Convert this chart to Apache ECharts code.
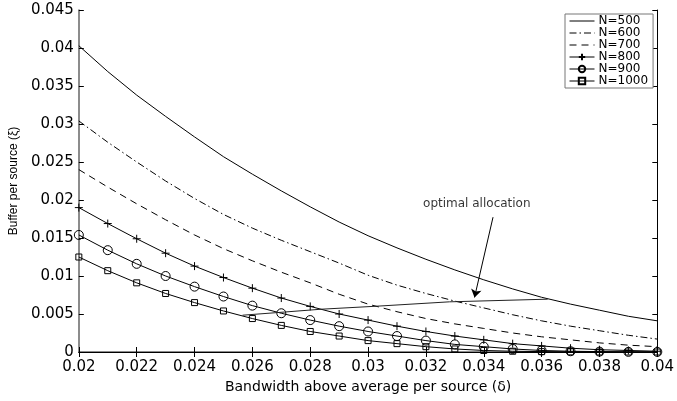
<!DOCTYPE html>
<html>
<head>
<meta charset="utf-8">
<script src="https://cdn.jsdelivr.net/npm/echarts@6/dist/echarts.min.js"></script>
<style>html,body{margin:0;padding:0;background:#fff}#c{width:677px;height:401px}</style>
</head>
<body>
<div id="c"></div>
<script>
const deltas = [0.020,0.021,0.022,0.023,0.024,0.025,0.026,0.027,0.028,0.029,0.030,0.031,0.032,0.033,0.034,0.035,0.036,0.037,0.038,0.039,0.040];
const n500  = [0.0403,0.0369,0.0338,0.0310,0.0283,0.0257,0.0234,0.0212,0.0191,0.0171,0.0153,0.0137,0.0122,0.0108,0.0095,0.0083,0.0072,0.0063,0.0055,0.0047,0.0041];
const n600  = [0.0304,0.0276,0.0250,0.0225,0.0202,0.0181,0.0163,0.0147,0.0132,0.0117,0.0101,0.0088,0.0077,0.0067,0.0058,0.0049,0.0041,0.0034,0.0028,0.0022,0.0017];
const n700  = [0.0240,0.0217,0.0195,0.0174,0.0154,0.0136,0.0120,0.0105,0.0091,0.0076,0.0063,0.0053,0.0044,0.0037,0.0031,0.0025,0.0020,0.0016,0.0012,0.0009,0.0007];
const n800  = [0.0190,0.0169,0.0149,0.0130,0.0113,0.0098,0.0084,0.0071,0.0060,0.0050,0.0042,0.0034,0.0027,0.0021,0.0016,0.0011,0.0008,0.0005,0.0003,0.0002,0.0001];
const n900  = [0.0154,0.0134,0.0116,0.0100,0.0086,0.0073,0.0061,0.0051,0.0042,0.0034,0.0027,0.0021,0.0015,0.0010,0.0007,0.0004,0.0002,0.0001,0.00005,0.00002,0.00001];
const n1000 = [0.0125,0.0107,0.0091,0.0077,0.0065,0.0054,0.0044,0.0035,0.0027,0.0021,0.0015,0.0011,0.0007,0.0004,0.0002,0.0001,0.00005,0.00002,0.00001,0,0];
const optimalX = [0.02566,0.02691,0.02838,0.03031,0.03281,0.03621];
const optimalY = [0.00484,0.00520,0.00563,0.00603,0.00660,0.00695];
const arrowFrom = [0.03432,0.01774];
const arrowTo = [0.03368,0.00718];
const annotPos = [0.03376,0.01949];
const annotText = 'optimal allocation';
const seriesNames = ['N=500','N=600','N=700','N=800','N=900','N=1000'];
const xTicks = {min:0.02, max:0.04, interval:0.002};
const yTicks = {min:0, max:0.045, interval:0.005};

const FONT = "'DejaVu Sans', sans-serif";
const fmt = v => String(Number(v.toFixed(4)));
const pairs = arr => deltas.map((d,i)=>[d,arr[i]]);
function lineSeries(name, data, lineType, symbol, size){
  const hasMarker = !!symbol;
  return {
    name, type:'line', data:pairs(data), xAxisIndex:0, yAxisIndex:0,
    symbol: symbol || 'circle', symbolSize: size || 1, showSymbol: hasMarker,
    lineStyle:{color:'#000', width:1, type: lineType || 'solid'},
    itemStyle: hasMarker ? {color:'rgba(0,0,0,0)', borderColor:'#000', borderWidth:1}
                         : {color:'rgba(0,0,0,0)', borderColor:'rgba(0,0,0,0)', borderWidth:0},
    z:3
  };
}
const plusPath = 'path://M0,5L10,5M5,0L5,10';

const chart = echarts.init(document.getElementById('c'), null, {renderer:'canvas'});
const axisCommon = {
  type:'value',
  splitLine:{show:false},
  axisTick:{show:true, inside:true, length:5, lineStyle:{color:'#000'}},
};
chart.setOption({
  animation:false,
  backgroundColor:'#fff',
  grid:{left:73, right:15, top:10, bottom:49, containLabel:false},
  xAxis:[
    Object.assign({}, axisCommon, {
      min:xTicks.min, max:xTicks.max, interval:xTicks.interval, position:'bottom',
      axisLine:{show:true, lineStyle:{color:'#666', width:1.5}},
      axisLabel:{show:true, formatter:fmt, color:'#000', fontFamily:FONT, fontSize:15, margin:8},
      name:'Bandwidth above average per source (δ)', nameLocation:'middle', nameGap:26,
      nameTextStyle:{color:'#000', fontFamily:FONT, fontSize:14}
    }),
    Object.assign({}, axisCommon, {
      min:xTicks.min, max:xTicks.max, interval:xTicks.interval, position:'top',
      axisLine:{show:true, lineStyle:{color:'#000', width:1}},
      axisLabel:{show:false}
    })
  ],
  yAxis:[
    Object.assign({}, axisCommon, {
      min:yTicks.min, max:yTicks.max, interval:yTicks.interval, position:'left',
      axisLine:{show:true, lineStyle:{color:'#666', width:1.5}},
      axisLabel:{show:true, formatter:fmt, color:'#000', fontFamily:FONT, fontSize:15, margin:5},
      name:'Buffer per source (ξ)', nameLocation:'middle', nameGap:54, nameRotate:90,
      nameTextStyle:{color:'#000', fontFamily:"'Liberation Sans', sans-serif", fontSize:12}
    }),
    Object.assign({}, axisCommon, {
      min:yTicks.min, max:yTicks.max, interval:yTicks.interval, position:'right',
      axisLine:{show:true, lineStyle:{color:'#000', width:1}},
      axisLabel:{show:false}
    })
  ],
  legend:{
    data:seriesNames, orient:'vertical', left:565, top:14,
    itemWidth:25, itemHeight:8, itemGap:0, padding:[1,5,1,4],
    backgroundColor:'#fff', borderColor:'#777', borderWidth:1,
    lineStyle:{width:1},
    textStyle:{color:'#000', fontFamily:FONT, fontSize:12, lineHeight:11.6, padding:[0,0,0,-1]},
    selectedMode:false
  },
  series:[
    lineSeries(seriesNames[0], n500, 'solid'),
    lineSeries(seriesNames[1], n600, [7,3,1.5,3]),
    lineSeries(seriesNames[2], n700, [7,5]),
    lineSeries(seriesNames[3], n800, 'solid', plusPath, 8),
    lineSeries(seriesNames[4], n900, 'solid', 'circle', 9),
    lineSeries(seriesNames[5], n1000, 'solid', 'rect', 6),
    {
      type:'line', data:optimalX.map((x,i)=>[x,optimalY[i]]), symbol:'none',
      lineStyle:{color:'#222', width:1}, z:4, silent:true
    },
    {
      type:'lines', coordinateSystem:'cartesian2d', polyline:false, silent:true,
      symbol:['none','arrow'], symbolSize:[0,8],
      lineStyle:{color:'#000', width:1, opacity:1},
      data:[{coords:[arrowFrom, arrowTo]}], z:5
    },
    {
      type:'scatter', data:[annotPos], symbolSize:1, silent:true,
      itemStyle:{color:'rgba(0,0,0,0)'},
      label:{show:true, position:'inside', formatter:annotText, color:'#000', fontFamily:FONT, fontSize:12}
    }
  ]
});
</script>
</body>
</html>
